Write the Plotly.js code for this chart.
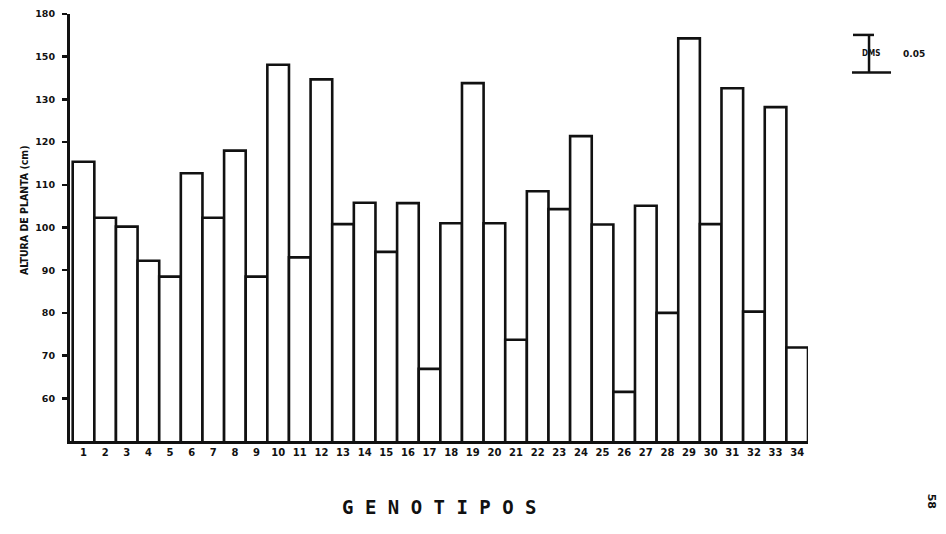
<!DOCTYPE html>
<html>
<head>
<meta charset="utf-8">
<script src="https://cdn.plot.ly/plotly-3.0.1.min.js"></script>
<style>html,body{margin:0;padding:0;background:#fff}#chart{width:946px;height:534px}</style>
</head>
<body>
<div id="chart"></div>
<script>
// ---- data ----
const genotipos = ['1','2','3','4','5','6','7','8','9','10','11','12','13','14','15','16','17',
                   '18','19','20','21','22','23','24','25','26','27','28','29','30','31','32','33','34'];
const altura = [115.4, 102.3, 100.2, 92.2, 88.5, 112.7, 102.3, 118.0, 88.5, 138.1,
                93.0, 134.7, 100.8, 105.8, 94.3, 105.7, 66.9, 101.0, 133.8, 101.0,
                73.7, 108.5, 104.3, 121.4, 100.7, 61.5, 105.1, 80.0, 144.3, 100.8,
                132.6, 80.3, 128.2, 71.9];
const yTickVals = [60, 70, 80, 90, 100, 110, 120, 130, 140, 150];
const yTickText = ['60', '70', '80', '90', '100', '110', '120', '130', '150', '180'];
const dmsTop = 145.1;      // upper end of the DMS bar (axis units)
const dmsValue = 8.8;      // length of the DMS 0.05 bar (axis units)
const dmsLabel = 'DMS';
const dmsLevel = '0.05';
const xTitle = 'G E N O T I P O S';
const yTitle = 'ALTURA DE PLANTA (cm)';
const pageNumber = '58';

const ink = '#111';
const trace = {
  type: 'bar',
  x: genotipos,
  y: altura,
  marker: {color: '#ffffff', line: {color: ink, width: 2.6}},
  hoverinfo: 'x+y'
};

const dmsBottom = dmsTop - dmsValue;
const dmsMid = (dmsTop + dmsBottom) / 2;

const layout = {
  width: 946, height: 534,
  margin: {l: 70, r: 138, t: 14, b: 93},
  paper_bgcolor: '#fff', plot_bgcolor: '#fff',
  showlegend: false,
  bargap: 0,
  font: {family: 'DejaVu Sans', color: ink},
  xaxis: {
    type: 'category',
    range: [-0.625, 33.5],
    showline: true, linewidth: 3, linecolor: ink,
    ticks: '', showgrid: false, zeroline: false,
    tickfont: {family: 'DejaVu Sans', size: 10, weight: 'bold', color: ink}
  },
  yaxis: {
    range: [50, 150],
    showline: true, linewidth: 3, linecolor: ink,
    ticks: 'outside', ticklen: 5, tickwidth: 2.5, tickcolor: ink,
    ticklabelstandoff: 5,
    tickvals: yTickVals, ticktext: yTickText,
    showgrid: false, zeroline: false,
    tickfont: {family: 'DejaVu Sans', size: 9.5, weight: 'bold', color: ink}
  },
  shapes: [
    {type: 'line', xref: 'paper', yref: 'y', x0: 1.0827, x1: 1.0827, y0: dmsBottom, y1: dmsTop, line: {color: ink, width: 2.5}},
    {type: 'line', xref: 'paper', yref: 'y', x0: 1.0610, x1: 1.0894, y0: dmsTop, y1: dmsTop, line: {color: ink, width: 2.5}},
    {type: 'line', xref: 'paper', yref: 'y', x0: 1.0596, x1: 1.1125, y0: dmsBottom, y1: dmsBottom, line: {color: ink, width: 2.5}}
  ],
  annotations: [
    {xref: 'paper', yref: 'y', x: 1.0996, y: dmsMid, text: dmsLabel, showarrow: false,
     font: {family: 'DejaVu Sans Condensed', size: 8, weight: 'bold', color: ink}},
    {xref: 'paper', yref: 'y', x: 1.1606, y: dmsMid, text: dmsLevel, showarrow: false,
     font: {family: 'DejaVu Sans', size: 9, weight: 'bold', color: ink}},
    {xref: 'paper', yref: 'paper', x: 0.5, y: -0.185, text: xTitle, showarrow: false,
     font: {family: 'DejaVu Sans Mono', size: 19, weight: 'bold', color: ink}},
    {xref: 'paper', yref: 'paper', x: -0.073, y: 0.541, text: yTitle, showarrow: false, textangle: -90,
     font: {family: 'DejaVu Sans Condensed', size: 10.5, weight: 'bold', color: ink}},
    {xref: 'paper', yref: 'paper', x: 1.1782, y: -0.162, text: pageNumber, showarrow: false, textangle: 90,
     font: {family: 'DejaVu Sans', size: 11, weight: 'bold', color: ink}}
  ]
};

Plotly.newPlot('chart', [trace], layout, {displayModeBar: false, staticPlot: true});
</script>
</body>
</html>
